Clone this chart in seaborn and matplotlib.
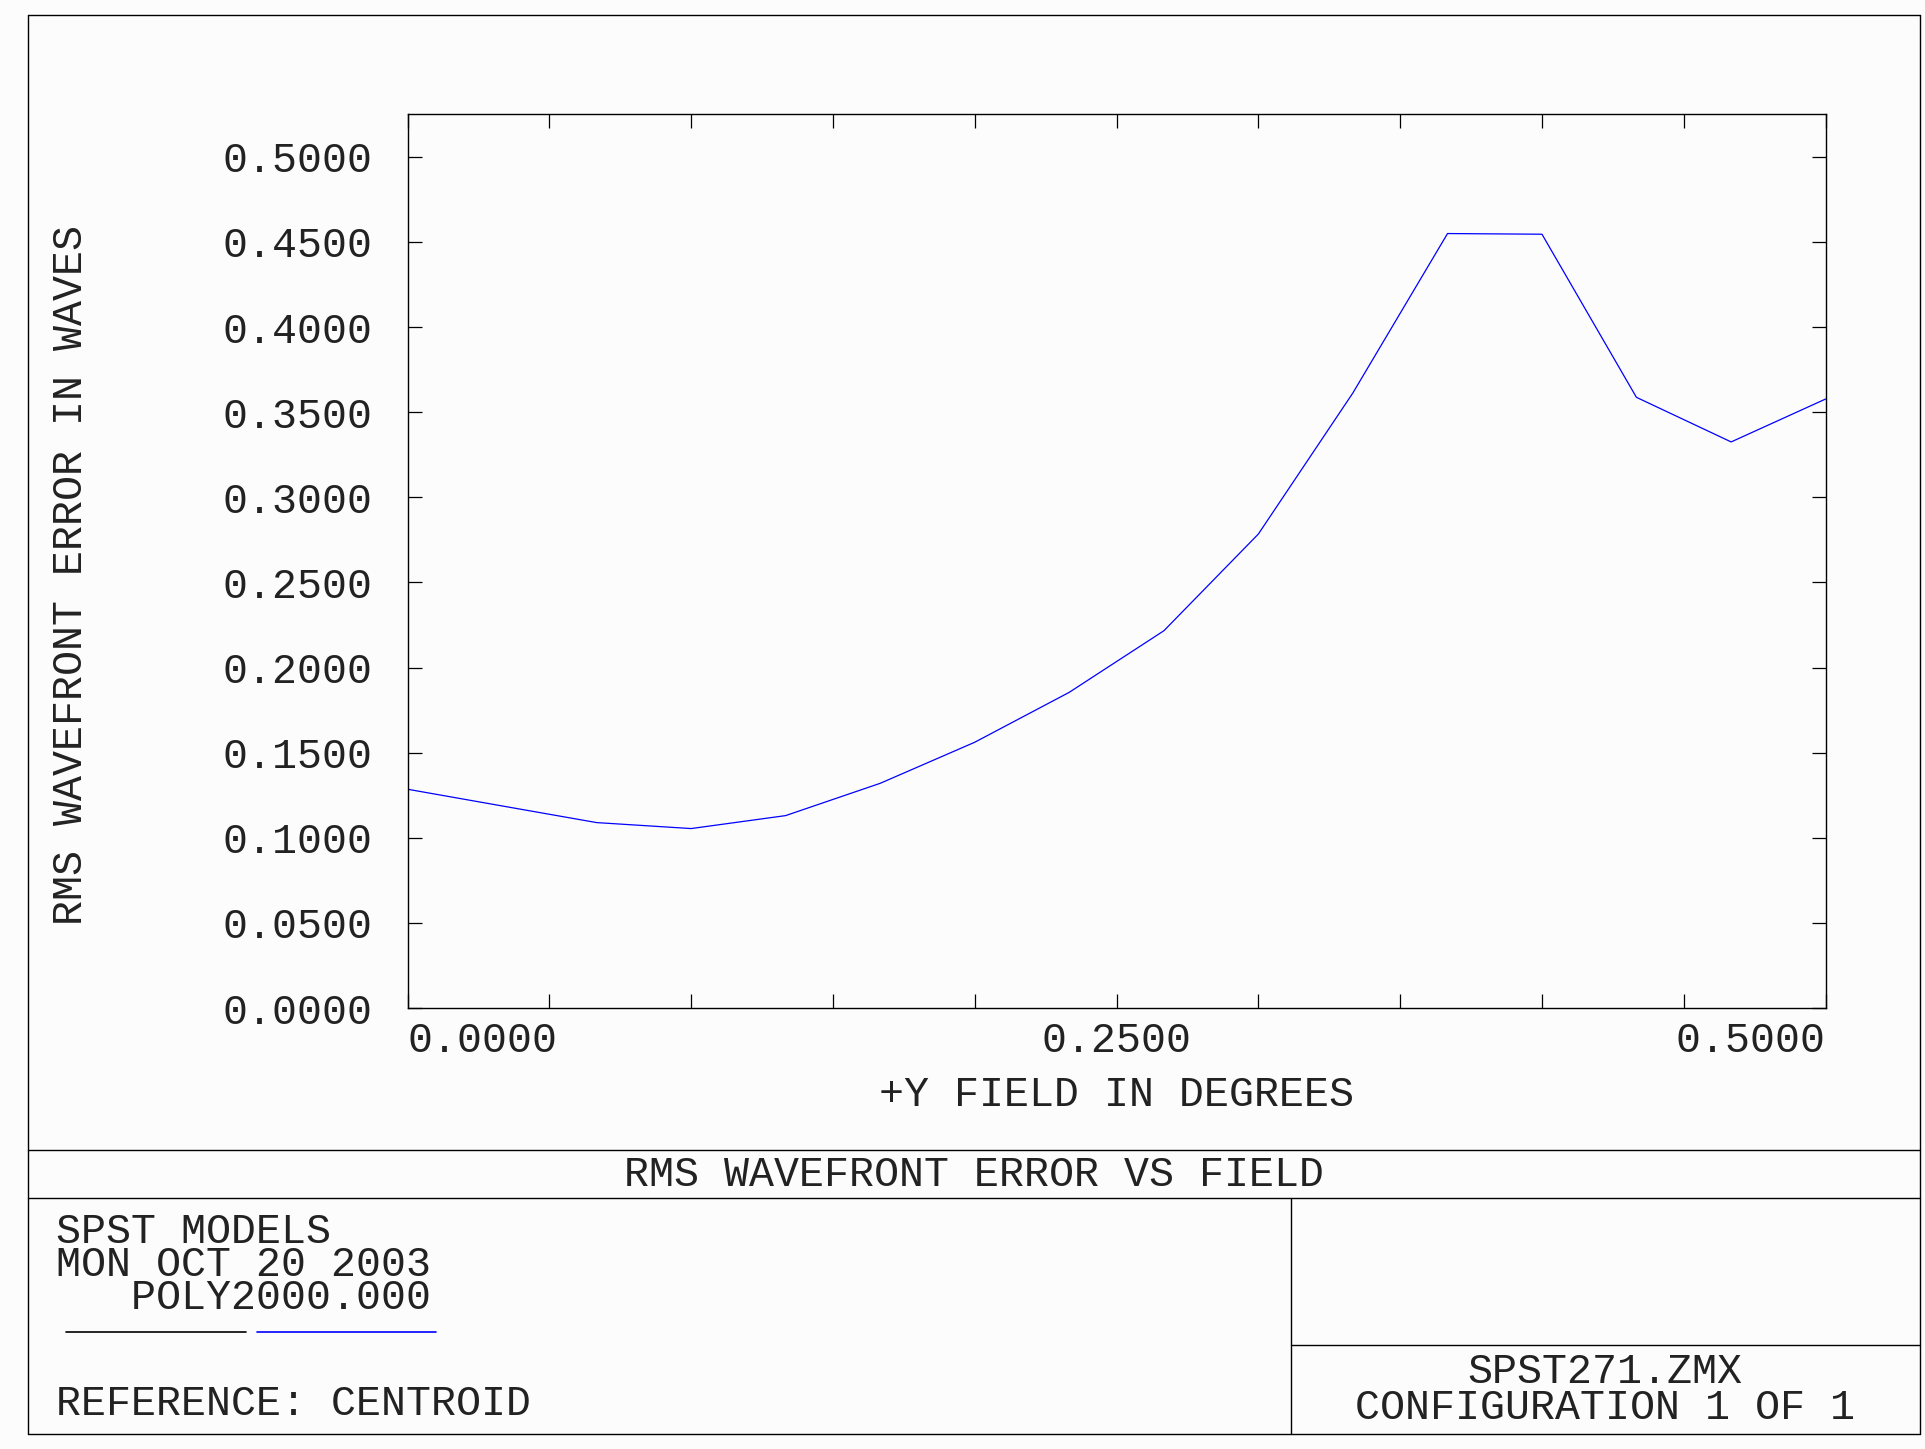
import matplotlib
matplotlib.use("Agg")
import matplotlib.pyplot as plt
import seaborn as sns
import pandas as pd
from matplotlib.lines import Line2D

# data
field = [0.0, 0.0333, 0.0667, 0.1, 0.1333, 0.1667, 0.2, 0.2333,
         0.2667, 0.3, 0.3333, 0.3667, 0.4, 0.4333, 0.4667, 0.5]
rms = [0.1285, 0.1187, 0.1089, 0.1054, 0.1130, 0.1320, 0.1561, 0.1854,
       0.2216, 0.2784, 0.3612, 0.4549, 0.4545, 0.3587, 0.3325, 0.3577]

xticks = [0.0, 0.05, 0.1, 0.15, 0.2, 0.25, 0.3, 0.35, 0.4, 0.45, 0.5]
xticklabels = ["0.0000", "", "", "", "", "0.2500", "", "", "", "", "0.5000"]
yticks = [0.0, 0.05, 0.1, 0.15, 0.2, 0.25, 0.3, 0.35, 0.4, 0.45, 0.5]
yticklabels = ["0.0000", "0.0500", "0.1000", "0.1500", "0.2000", "0.2500",
               "0.3000", "0.3500", "0.4000", "0.4500", "0.5000"]

left_block = ["SPST MODELS", "MON OCT 20 2003", "   POLY2000.000"]
right_block = ["SPST271.ZMX", "CONFIGURATION 1 OF 1"]

df = pd.DataFrame({"field": field, "rms": rms})

sns.set_style("white")
plt.rcParams["font.family"] = ["Liberation Mono", "DejaVu Sans Mono"]
bg = "#fcfcfc"
tc = "#222222"
fs = 30
W, H = 1925, 1449

fig = plt.figure(figsize=(W / 100, H / 100), dpi=100, facecolor=bg)


def fx(x):
    return x / W


def fy(y):
    return 1 - y / H


ax = fig.add_axes([fx(407.5), fy(1008), fx(1825.6) - fx(407.5), fy(114.2) - fy(1008)])
ax.set_facecolor(bg)
sns.lineplot(data=df, x="field", y="rms", color="#0000ff", lw=0.9, ax=ax)

ax.set_xlim(0, 0.5)
ax.set_ylim(0, 0.525)
ax.set_xticks(xticks)
ax.set_xticklabels(xticklabels, fontsize=fs, color=tc)
ax.set_yticks(yticks)
ax.set_yticklabels(yticklabels, fontsize=fs, color=tc)
labs = ax.get_xticklabels()
labs[0].set_ha("left")
labs[-1].set_ha("right")
ax.tick_params(direction="in", length=10, width=0.9, color="black",
               top=True, right=True, bottom=True, left=True)
ax.tick_params(axis="y", pad=25)
ax.tick_params(axis="x", pad=9)
for s in ax.spines.values():
    s.set_color("black")
    s.set_linewidth(1.0)

ax.set_xlabel("+Y FIELD IN DEGREES", fontsize=fs, color=tc)
ax.xaxis.set_label_coords(0.5, -0.075)
ax.set_ylabel("RMS WAVEFRONT ERROR IN WAVES", fontsize=fs, color=tc)
ax.yaxis.set_label_coords(-0.223, 0.484)


# title block frame
def hline(y, x0, x1, color="black", lw=1.0):
    fig.add_artist(Line2D([fx(x0), fx(x1)], [fy(y), fy(y)], transform=fig.transFigure,
                          color=color, lw=lw))


def vline(x, y0, y1):
    fig.add_artist(Line2D([fx(x), fx(x)], [fy(y0), fy(y1)], transform=fig.transFigure,
                          color="black", lw=1.0))


hline(15, 28, 1920)
hline(1434, 28, 1920)
vline(28, 15, 1434)
vline(1920, 15, 1434)
hline(1150, 28, 1920)
hline(1198, 28, 1920)
vline(1291, 1198, 1434)
hline(1345, 1291, 1920)

fig.text(fx(974), fy(1175), "RMS WAVEFRONT ERROR VS FIELD", fontsize=fs,
         ha="center", va="center", color=tc)
fig.text(fx(56), fy(1265), "\n".join(left_block), fontsize=fs, ha="left", va="center",
         linespacing=0.79, color=tc)
hline(1332, 66, 246, lw=1.2)
hline(1332, 257, 436, color="#0000ff", lw=1.2)
fig.text(fx(56), fy(1404), "REFERENCE: CENTROID", fontsize=fs, ha="left", va="center", color=tc)
fig.text(fx(1605), fy(1390), "\n".join(right_block), fontsize=fs, ha="center", va="center",
         multialignment="center", linespacing=0.87, color=tc)

fig.savefig("out.png", dpi=100, facecolor=bg)
